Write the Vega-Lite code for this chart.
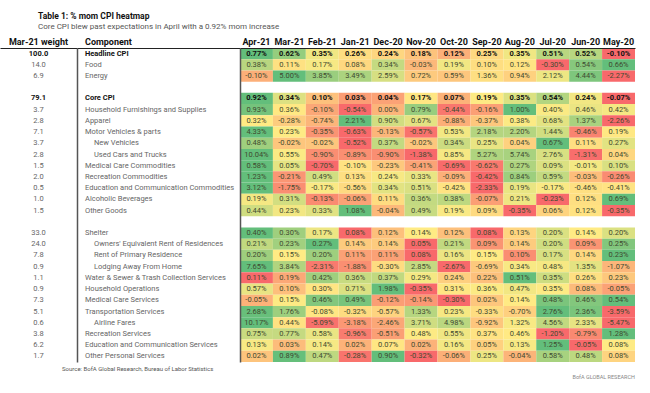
{
"$schema":"https://vega.github.io/schema/vega-lite/v6.json",
"padding":{"top":11,"left":0,"right":10,"bottom":0},
"config":{"font":"Roboto","view":{"stroke":null},"axis":{"grid":false},"locale":{"number":{"decimal":".","thousands":",","grouping":[3],"currency":["$",""],"minus":"-"}}},
"title":{"text":"Table 1: % mom CPI heatmap","subtitle":"Core CPI blew past expectations in April with a 0.92% mom increase","anchor":"start","dx":38,"fontSize":8.5,"fontWeight":"bold","color":"#111","subtitleFontSize":8,"subtitleColor":"#555","subtitlePadding":3,"offset":6},
"datasets":{
"comp":[
{"c":"Headline CPI","w":100.0,"level":0},{"c":"Food","w":14.0,"level":1},{"c":"Energy","w":6.9,"level":1},
{"c":"Core CPI","w":79.1,"level":0},{"c":"Household Furnishings and Supplies","w":3.7,"level":1},{"c":"Apparel","w":2.8,"level":1},{"c":"Motor Vehicles & parts","w":7.1,"level":1},{"c":"New Vehicles","w":3.7,"level":2},{"c":"Used Cars and Trucks","w":2.8,"level":2},{"c":"Medical Care Commodities","w":1.5,"level":1},{"c":"Recreation Commodities","w":2.0,"level":1},{"c":"Education and Communication Commodities","w":0.5,"level":1},{"c":"Alcoholic Beverages","w":1.0,"level":1},{"c":"Other Goods","w":1.5,"level":1},
{"c":"Shelter","w":33.0,"level":1},{"c":"Owners' Equivalent Rent of Residences","w":24.0,"level":2},{"c":"Rent of Primary Residence","w":7.8,"level":2},{"c":"Lodging Away From Home","w":0.9,"level":2},{"c":"Water & Sewer & Trash Collection Services","w":1.1,"level":1},{"c":"Household Operations","w":0.9,"level":1},{"c":"Medical Care Services","w":7.3,"level":1},{"c":"Transportation Services","w":5.1,"level":1},{"c":"Airline Fares","w":0.6,"level":2},{"c":"Recreation Services","w":3.8,"level":1},{"c":"Education and Communication Services","w":6.2,"level":1},{"c":"Other Personal Services","w":1.7,"level":1}
],
"cpi":[
{"c":"Headline CPI","m":"Apr-21","v":0.0077},{"c":"Headline CPI","m":"Mar-21","v":0.0062},{"c":"Headline CPI","m":"Feb-21","v":0.0035},{"c":"Headline CPI","m":"Jan-21","v":0.0026},{"c":"Headline CPI","m":"Dec-20","v":0.0024},{"c":"Headline CPI","m":"Nov-20","v":0.0018},{"c":"Headline CPI","m":"Oct-20","v":0.0012},{"c":"Headline CPI","m":"Sep-20","v":0.0025},{"c":"Headline CPI","m":"Aug-20","v":0.0035},{"c":"Headline CPI","m":"Jul-20","v":0.0051},{"c":"Headline CPI","m":"Jun-20","v":0.0052},{"c":"Headline CPI","m":"May-20","v":-0.001},
{"c":"Food","m":"Apr-21","v":0.0038},{"c":"Food","m":"Mar-21","v":0.0011},{"c":"Food","m":"Feb-21","v":0.0017},{"c":"Food","m":"Jan-21","v":0.0008},{"c":"Food","m":"Dec-20","v":0.0034},{"c":"Food","m":"Nov-20","v":-0.0003},{"c":"Food","m":"Oct-20","v":0.0019},{"c":"Food","m":"Sep-20","v":0.001},{"c":"Food","m":"Aug-20","v":0.0012},{"c":"Food","m":"Jul-20","v":-0.003},{"c":"Food","m":"Jun-20","v":0.0054},{"c":"Food","m":"May-20","v":0.0066},
{"c":"Energy","m":"Apr-21","v":-0.001},{"c":"Energy","m":"Mar-21","v":0.05},{"c":"Energy","m":"Feb-21","v":0.0385},{"c":"Energy","m":"Jan-21","v":0.0349},{"c":"Energy","m":"Dec-20","v":0.0259},{"c":"Energy","m":"Nov-20","v":0.0072},{"c":"Energy","m":"Oct-20","v":0.0059},{"c":"Energy","m":"Sep-20","v":0.0136},{"c":"Energy","m":"Aug-20","v":0.0094},{"c":"Energy","m":"Jul-20","v":0.0212},{"c":"Energy","m":"Jun-20","v":0.0444},{"c":"Energy","m":"May-20","v":-0.0227},
{"c":"Core CPI","m":"Apr-21","v":0.0092},{"c":"Core CPI","m":"Mar-21","v":0.0034},{"c":"Core CPI","m":"Feb-21","v":0.001},{"c":"Core CPI","m":"Jan-21","v":0.0003},{"c":"Core CPI","m":"Dec-20","v":0.0004},{"c":"Core CPI","m":"Nov-20","v":0.0017},{"c":"Core CPI","m":"Oct-20","v":0.0007},{"c":"Core CPI","m":"Sep-20","v":0.0019},{"c":"Core CPI","m":"Aug-20","v":0.0035},{"c":"Core CPI","m":"Jul-20","v":0.0054},{"c":"Core CPI","m":"Jun-20","v":0.0024},{"c":"Core CPI","m":"May-20","v":-0.0007},
{"c":"Household Furnishings and Supplies","m":"Apr-21","v":0.0093},{"c":"Household Furnishings and Supplies","m":"Mar-21","v":0.0036},{"c":"Household Furnishings and Supplies","m":"Feb-21","v":-0.001},{"c":"Household Furnishings and Supplies","m":"Jan-21","v":-0.0054},{"c":"Household Furnishings and Supplies","m":"Dec-20","v":0},{"c":"Household Furnishings and Supplies","m":"Nov-20","v":0.0079},{"c":"Household Furnishings and Supplies","m":"Oct-20","v":-0.0044},{"c":"Household Furnishings and Supplies","m":"Sep-20","v":-0.0016},{"c":"Household Furnishings and Supplies","m":"Aug-20","v":0.01},{"c":"Household Furnishings and Supplies","m":"Jul-20","v":0.004},{"c":"Household Furnishings and Supplies","m":"Jun-20","v":0.0046},{"c":"Household Furnishings and Supplies","m":"May-20","v":0.0042},
{"c":"Apparel","m":"Apr-21","v":0.0032},{"c":"Apparel","m":"Mar-21","v":-0.0028},{"c":"Apparel","m":"Feb-21","v":-0.0074},{"c":"Apparel","m":"Jan-21","v":0.0221},{"c":"Apparel","m":"Dec-20","v":0.009},{"c":"Apparel","m":"Nov-20","v":0.0067},{"c":"Apparel","m":"Oct-20","v":-0.0088},{"c":"Apparel","m":"Sep-20","v":-0.0037},{"c":"Apparel","m":"Aug-20","v":0.0038},{"c":"Apparel","m":"Jul-20","v":0.0068},{"c":"Apparel","m":"Jun-20","v":0.0137},{"c":"Apparel","m":"May-20","v":-0.0226},
{"c":"Motor Vehicles & parts","m":"Apr-21","v":0.0433},{"c":"Motor Vehicles & parts","m":"Mar-21","v":0.0023},{"c":"Motor Vehicles & parts","m":"Feb-21","v":-0.0035},{"c":"Motor Vehicles & parts","m":"Jan-21","v":-0.0063},{"c":"Motor Vehicles & parts","m":"Dec-20","v":-0.0013},{"c":"Motor Vehicles & parts","m":"Nov-20","v":-0.0057},{"c":"Motor Vehicles & parts","m":"Oct-20","v":0.0053},{"c":"Motor Vehicles & parts","m":"Sep-20","v":0.0218},{"c":"Motor Vehicles & parts","m":"Aug-20","v":0.022},{"c":"Motor Vehicles & parts","m":"Jul-20","v":0.0144},{"c":"Motor Vehicles & parts","m":"Jun-20","v":-0.0046},{"c":"Motor Vehicles & parts","m":"May-20","v":0.0019},
{"c":"New Vehicles","m":"Apr-21","v":0.0048},{"c":"New Vehicles","m":"Mar-21","v":-0.0002},{"c":"New Vehicles","m":"Feb-21","v":-0.0002},{"c":"New Vehicles","m":"Jan-21","v":-0.0052},{"c":"New Vehicles","m":"Dec-20","v":0.0037},{"c":"New Vehicles","m":"Nov-20","v":-0.0002},{"c":"New Vehicles","m":"Oct-20","v":0.0034},{"c":"New Vehicles","m":"Sep-20","v":0.0025},{"c":"New Vehicles","m":"Aug-20","v":0.0004},{"c":"New Vehicles","m":"Jul-20","v":0.0067},{"c":"New Vehicles","m":"Jun-20","v":0.0011},{"c":"New Vehicles","m":"May-20","v":0.0027},
{"c":"Used Cars and Trucks","m":"Apr-21","v":0.1004},{"c":"Used Cars and Trucks","m":"Mar-21","v":0.0055},{"c":"Used Cars and Trucks","m":"Feb-21","v":-0.009},{"c":"Used Cars and Trucks","m":"Jan-21","v":-0.0089},{"c":"Used Cars and Trucks","m":"Dec-20","v":-0.009},{"c":"Used Cars and Trucks","m":"Nov-20","v":-0.0138},{"c":"Used Cars and Trucks","m":"Oct-20","v":0.0085},{"c":"Used Cars and Trucks","m":"Sep-20","v":0.0527},{"c":"Used Cars and Trucks","m":"Aug-20","v":0.0574},{"c":"Used Cars and Trucks","m":"Jul-20","v":0.0276},{"c":"Used Cars and Trucks","m":"Jun-20","v":-0.0131},{"c":"Used Cars and Trucks","m":"May-20","v":0.0004},
{"c":"Medical Care Commodities","m":"Apr-21","v":0.0058},{"c":"Medical Care Commodities","m":"Mar-21","v":0.0005},{"c":"Medical Care Commodities","m":"Feb-21","v":-0.007},{"c":"Medical Care Commodities","m":"Jan-21","v":-0.001},{"c":"Medical Care Commodities","m":"Dec-20","v":-0.0023},{"c":"Medical Care Commodities","m":"Nov-20","v":-0.0041},{"c":"Medical Care Commodities","m":"Oct-20","v":-0.0069},{"c":"Medical Care Commodities","m":"Sep-20","v":-0.0062},{"c":"Medical Care Commodities","m":"Aug-20","v":0.0027},{"c":"Medical Care Commodities","m":"Jul-20","v":0.0009},{"c":"Medical Care Commodities","m":"Jun-20","v":-0.0001},{"c":"Medical Care Commodities","m":"May-20","v":0.001},
{"c":"Recreation Commodities","m":"Apr-21","v":0.0123},{"c":"Recreation Commodities","m":"Mar-21","v":-0.0021},{"c":"Recreation Commodities","m":"Feb-21","v":0.0049},{"c":"Recreation Commodities","m":"Jan-21","v":0.0013},{"c":"Recreation Commodities","m":"Dec-20","v":0.0024},{"c":"Recreation Commodities","m":"Nov-20","v":0.0033},{"c":"Recreation Commodities","m":"Oct-20","v":-0.0009},{"c":"Recreation Commodities","m":"Sep-20","v":-0.0042},{"c":"Recreation Commodities","m":"Aug-20","v":0.0084},{"c":"Recreation Commodities","m":"Jul-20","v":0.0059},{"c":"Recreation Commodities","m":"Jun-20","v":-0.0003},{"c":"Recreation Commodities","m":"May-20","v":-0.0026},
{"c":"Education and Communication Commodities","m":"Apr-21","v":0.0312},{"c":"Education and Communication Commodities","m":"Mar-21","v":-0.0175},{"c":"Education and Communication Commodities","m":"Feb-21","v":-0.0017},{"c":"Education and Communication Commodities","m":"Jan-21","v":-0.0056},{"c":"Education and Communication Commodities","m":"Dec-20","v":0.0034},{"c":"Education and Communication Commodities","m":"Nov-20","v":0.0051},{"c":"Education and Communication Commodities","m":"Oct-20","v":-0.0042},{"c":"Education and Communication Commodities","m":"Sep-20","v":-0.0233},{"c":"Education and Communication Commodities","m":"Aug-20","v":0.0019},{"c":"Education and Communication Commodities","m":"Jul-20","v":-0.0017},{"c":"Education and Communication Commodities","m":"Jun-20","v":-0.0046},{"c":"Education and Communication Commodities","m":"May-20","v":-0.0041},
{"c":"Alcoholic Beverages","m":"Apr-21","v":0.0019},{"c":"Alcoholic Beverages","m":"Mar-21","v":0.0031},{"c":"Alcoholic Beverages","m":"Feb-21","v":-0.0013},{"c":"Alcoholic Beverages","m":"Jan-21","v":-0.0006},{"c":"Alcoholic Beverages","m":"Dec-20","v":0.0011},{"c":"Alcoholic Beverages","m":"Nov-20","v":0.0036},{"c":"Alcoholic Beverages","m":"Oct-20","v":0.0038},{"c":"Alcoholic Beverages","m":"Sep-20","v":-0.0007},{"c":"Alcoholic Beverages","m":"Aug-20","v":0.0021},{"c":"Alcoholic Beverages","m":"Jul-20","v":-0.0023},{"c":"Alcoholic Beverages","m":"Jun-20","v":0.0012},{"c":"Alcoholic Beverages","m":"May-20","v":0.0069},
{"c":"Other Goods","m":"Apr-21","v":0.0044},{"c":"Other Goods","m":"Mar-21","v":0.0023},{"c":"Other Goods","m":"Feb-21","v":0.0033},{"c":"Other Goods","m":"Jan-21","v":0.0108},{"c":"Other Goods","m":"Dec-20","v":-0.0004},{"c":"Other Goods","m":"Nov-20","v":0.0049},{"c":"Other Goods","m":"Oct-20","v":0.0019},{"c":"Other Goods","m":"Sep-20","v":0.0009},{"c":"Other Goods","m":"Aug-20","v":-0.0035},{"c":"Other Goods","m":"Jul-20","v":0.0006},{"c":"Other Goods","m":"Jun-20","v":0.0012},{"c":"Other Goods","m":"May-20","v":-0.0035},
{"c":"Shelter","m":"Apr-21","v":0.004},{"c":"Shelter","m":"Mar-21","v":0.003},{"c":"Shelter","m":"Feb-21","v":0.0017},{"c":"Shelter","m":"Jan-21","v":0.0008},{"c":"Shelter","m":"Dec-20","v":0.0012},{"c":"Shelter","m":"Nov-20","v":0.0014},{"c":"Shelter","m":"Oct-20","v":0.0012},{"c":"Shelter","m":"Sep-20","v":0.0008},{"c":"Shelter","m":"Aug-20","v":0.0013},{"c":"Shelter","m":"Jul-20","v":0.002},{"c":"Shelter","m":"Jun-20","v":0.0014},{"c":"Shelter","m":"May-20","v":0.002},
{"c":"Owners' Equivalent Rent of Residences","m":"Apr-21","v":0.0021},{"c":"Owners' Equivalent Rent of Residences","m":"Mar-21","v":0.0023},{"c":"Owners' Equivalent Rent of Residences","m":"Feb-21","v":0.0027},{"c":"Owners' Equivalent Rent of Residences","m":"Jan-21","v":0.0014},{"c":"Owners' Equivalent Rent of Residences","m":"Dec-20","v":0.0014},{"c":"Owners' Equivalent Rent of Residences","m":"Nov-20","v":0.0005},{"c":"Owners' Equivalent Rent of Residences","m":"Oct-20","v":0.0021},{"c":"Owners' Equivalent Rent of Residences","m":"Sep-20","v":0.0009},{"c":"Owners' Equivalent Rent of Residences","m":"Aug-20","v":0.0014},{"c":"Owners' Equivalent Rent of Residences","m":"Jul-20","v":0.002},{"c":"Owners' Equivalent Rent of Residences","m":"Jun-20","v":0.0009},{"c":"Owners' Equivalent Rent of Residences","m":"May-20","v":0.0025},
{"c":"Rent of Primary Residence","m":"Apr-21","v":0.002},{"c":"Rent of Primary Residence","m":"Mar-21","v":0.0015},{"c":"Rent of Primary Residence","m":"Feb-21","v":0.002},{"c":"Rent of Primary Residence","m":"Jan-21","v":0.0011},{"c":"Rent of Primary Residence","m":"Dec-20","v":0.0011},{"c":"Rent of Primary Residence","m":"Nov-20","v":0.0008},{"c":"Rent of Primary Residence","m":"Oct-20","v":0.0016},{"c":"Rent of Primary Residence","m":"Sep-20","v":0.0015},{"c":"Rent of Primary Residence","m":"Aug-20","v":0.001},{"c":"Rent of Primary Residence","m":"Jul-20","v":0.0017},{"c":"Rent of Primary Residence","m":"Jun-20","v":0.0014},{"c":"Rent of Primary Residence","m":"May-20","v":0.0023},
{"c":"Lodging Away From Home","m":"Apr-21","v":0.0765},{"c":"Lodging Away From Home","m":"Mar-21","v":0.0384},{"c":"Lodging Away From Home","m":"Feb-21","v":-0.0231},{"c":"Lodging Away From Home","m":"Jan-21","v":-0.0188},{"c":"Lodging Away From Home","m":"Dec-20","v":-0.003},{"c":"Lodging Away From Home","m":"Nov-20","v":0.0285},{"c":"Lodging Away From Home","m":"Oct-20","v":-0.0267},{"c":"Lodging Away From Home","m":"Sep-20","v":-0.0069},{"c":"Lodging Away From Home","m":"Aug-20","v":0.0034},{"c":"Lodging Away From Home","m":"Jul-20","v":0.0048},{"c":"Lodging Away From Home","m":"Jun-20","v":0.0135},{"c":"Lodging Away From Home","m":"May-20","v":-0.0107},
{"c":"Water & Sewer & Trash Collection Services","m":"Apr-21","v":0.0011},{"c":"Water & Sewer & Trash Collection Services","m":"Mar-21","v":0.0019},{"c":"Water & Sewer & Trash Collection Services","m":"Feb-21","v":0.0042},{"c":"Water & Sewer & Trash Collection Services","m":"Jan-21","v":0.0036},{"c":"Water & Sewer & Trash Collection Services","m":"Dec-20","v":0.0037},{"c":"Water & Sewer & Trash Collection Services","m":"Nov-20","v":0.0029},{"c":"Water & Sewer & Trash Collection Services","m":"Oct-20","v":0.0024},{"c":"Water & Sewer & Trash Collection Services","m":"Sep-20","v":0.0022},{"c":"Water & Sewer & Trash Collection Services","m":"Aug-20","v":0.0051},{"c":"Water & Sewer & Trash Collection Services","m":"Jul-20","v":0.0035},{"c":"Water & Sewer & Trash Collection Services","m":"Jun-20","v":0.0026},{"c":"Water & Sewer & Trash Collection Services","m":"May-20","v":0.0023},
{"c":"Household Operations","m":"Apr-21","v":0.0057},{"c":"Household Operations","m":"Mar-21","v":0.001},{"c":"Household Operations","m":"Feb-21","v":0.003},{"c":"Household Operations","m":"Jan-21","v":0.0071},{"c":"Household Operations","m":"Dec-20","v":0.0198},{"c":"Household Operations","m":"Nov-20","v":-0.0035},{"c":"Household Operations","m":"Oct-20","v":0.0031},{"c":"Household Operations","m":"Sep-20","v":0.0036},{"c":"Household Operations","m":"Aug-20","v":0.0047},{"c":"Household Operations","m":"Jul-20","v":0.0035},{"c":"Household Operations","m":"Jun-20","v":0.0008},{"c":"Household Operations","m":"May-20","v":-0.0005},
{"c":"Medical Care Services","m":"Apr-21","v":-0.0005},{"c":"Medical Care Services","m":"Mar-21","v":0.0015},{"c":"Medical Care Services","m":"Feb-21","v":0.0046},{"c":"Medical Care Services","m":"Jan-21","v":0.0049},{"c":"Medical Care Services","m":"Dec-20","v":-0.0012},{"c":"Medical Care Services","m":"Nov-20","v":-0.0014},{"c":"Medical Care Services","m":"Oct-20","v":-0.003},{"c":"Medical Care Services","m":"Sep-20","v":0.0002},{"c":"Medical Care Services","m":"Aug-20","v":0.0014},{"c":"Medical Care Services","m":"Jul-20","v":0.0048},{"c":"Medical Care Services","m":"Jun-20","v":0.0046},{"c":"Medical Care Services","m":"May-20","v":0.0054},
{"c":"Transportation Services","m":"Apr-21","v":0.0268},{"c":"Transportation Services","m":"Mar-21","v":0.0176},{"c":"Transportation Services","m":"Feb-21","v":-0.0008},{"c":"Transportation Services","m":"Jan-21","v":-0.0032},{"c":"Transportation Services","m":"Dec-20","v":-0.0057},{"c":"Transportation Services","m":"Nov-20","v":0.0133},{"c":"Transportation Services","m":"Oct-20","v":0.0023},{"c":"Transportation Services","m":"Sep-20","v":-0.0033},{"c":"Transportation Services","m":"Aug-20","v":-0.007},{"c":"Transportation Services","m":"Jul-20","v":0.0276},{"c":"Transportation Services","m":"Jun-20","v":0.0236},{"c":"Transportation Services","m":"May-20","v":-0.0359},
{"c":"Airline Fares","m":"Apr-21","v":0.1017},{"c":"Airline Fares","m":"Mar-21","v":0.0044},{"c":"Airline Fares","m":"Feb-21","v":-0.0509},{"c":"Airline Fares","m":"Jan-21","v":-0.0318},{"c":"Airline Fares","m":"Dec-20","v":-0.0246},{"c":"Airline Fares","m":"Nov-20","v":0.0371},{"c":"Airline Fares","m":"Oct-20","v":0.0498},{"c":"Airline Fares","m":"Sep-20","v":-0.0092},{"c":"Airline Fares","m":"Aug-20","v":0.0132},{"c":"Airline Fares","m":"Jul-20","v":0.0456},{"c":"Airline Fares","m":"Jun-20","v":0.0233},{"c":"Airline Fares","m":"May-20","v":-0.0547},
{"c":"Recreation Services","m":"Apr-21","v":0.0075},{"c":"Recreation Services","m":"Mar-21","v":0.0077},{"c":"Recreation Services","m":"Feb-21","v":0.0058},{"c":"Recreation Services","m":"Jan-21","v":-0.0096},{"c":"Recreation Services","m":"Dec-20","v":-0.0051},{"c":"Recreation Services","m":"Nov-20","v":0.0048},{"c":"Recreation Services","m":"Oct-20","v":0.0055},{"c":"Recreation Services","m":"Sep-20","v":0.0037},{"c":"Recreation Services","m":"Aug-20","v":0.0046},{"c":"Recreation Services","m":"Jul-20","v":-0.012},{"c":"Recreation Services","m":"Jun-20","v":-0.0079},{"c":"Recreation Services","m":"May-20","v":0.0128},
{"c":"Education and Communication Services","m":"Apr-21","v":0.0013},{"c":"Education and Communication Services","m":"Mar-21","v":0.0003},{"c":"Education and Communication Services","m":"Feb-21","v":0.0014},{"c":"Education and Communication Services","m":"Jan-21","v":0.0002},{"c":"Education and Communication Services","m":"Dec-20","v":0.0007},{"c":"Education and Communication Services","m":"Nov-20","v":0.0002},{"c":"Education and Communication Services","m":"Oct-20","v":0.0016},{"c":"Education and Communication Services","m":"Sep-20","v":0.0005},{"c":"Education and Communication Services","m":"Aug-20","v":0.0013},{"c":"Education and Communication Services","m":"Jul-20","v":0.0125},{"c":"Education and Communication Services","m":"Jun-20","v":-0.0005},{"c":"Education and Communication Services","m":"May-20","v":0.0008},
{"c":"Other Personal Services","m":"Apr-21","v":0.0002},{"c":"Other Personal Services","m":"Mar-21","v":0.0089},{"c":"Other Personal Services","m":"Feb-21","v":0.0047},{"c":"Other Personal Services","m":"Jan-21","v":-0.0028},{"c":"Other Personal Services","m":"Dec-20","v":0.009},{"c":"Other Personal Services","m":"Nov-20","v":-0.0032},{"c":"Other Personal Services","m":"Oct-20","v":-0.0006},{"c":"Other Personal Services","m":"Sep-20","v":0.0025},{"c":"Other Personal Services","m":"Aug-20","v":-0.0004},{"c":"Other Personal Services","m":"Jul-20","v":0.0058},{"c":"Other Personal Services","m":"Jun-20","v":0.0048},{"c":"Other Personal Services","m":"May-20","v":0.0008}
]},
"hconcat":[
{"width":77,"height":314,"data":{"name":"comp"},
 "title":{"text":"Source: BofA Global Research, Bureau of Labor Statistics","orient":"bottom","anchor":"start","dx":62,"fontSize":6,"fontWeight":"normal","color":"#555","offset":4},
 "encoding":{
  "x":{"datum":"Mar-21 weight","type":"nominal","scale":{"type":"band","paddingInner":0,"paddingOuter":0},"axis":{"orient":"top","title":null,"ticks":false,"labelAngle":0,"labelFontWeight":"bold","labelFontSize":9,"labelColor":"#111","labelPadding":2,"domainColor":"#222","domainWidth":1}},
  "y":{"field":"c","type":"nominal","scale":{"type":"band","paddingInner":0,"paddingOuter":0,"domain":["Headline CPI","Food","Energy","_g1","Core CPI","Household Furnishings and Supplies","Apparel","Motor Vehicles & parts","New Vehicles","Used Cars and Trucks","Medical Care Commodities","Recreation Commodities","Education and Communication Commodities","Alcoholic Beverages","Other Goods","_g2","Shelter","Owners' Equivalent Rent of Residences","Rent of Primary Residence","Lodging Away From Home","Water & Sewer & Trash Collection Services","Household Operations","Medical Care Services","Transportation Services","Airline Fares","Recreation Services","Education and Communication Services","Other Personal Services"]},"axis":null},
  "text":{"field":"w","type":"quantitative","format":".1f"}},
 "layer":[
  {"transform":[{"filter":{"field":"level","equal":0}}],"mark":{"type":"text","fontSize":7.5,"fontWeight":"bold","color":"#111"}},
  {"transform":[{"filter":{"field":"level","gt":0}}],"mark":{"type":"text","fontSize":7.5,"color":"#666"}}
 ]},
{"width":163,"height":314,"data":{"name":"comp"},
 "encoding":{
  "x":{"datum":"Component","type":"nominal","bandPosition":0,"scale":{"type":"band","paddingInner":0,"paddingOuter":0},"axis":{"orient":"top","title":null,"ticks":false,"labelAlign":"left","labelOffset":-73.5,"labelAngle":0,"labelFontWeight":"bold","labelFontSize":9,"labelColor":"#111","labelPadding":2,"domainColor":"#222","domainWidth":1}},
  "y":{"field":"c","type":"nominal","scale":{"type":"band","paddingInner":0,"paddingOuter":0,"domain":["Headline CPI","Food","Energy","_g1","Core CPI","Household Furnishings and Supplies","Apparel","Motor Vehicles & parts","New Vehicles","Used Cars and Trucks","Medical Care Commodities","Recreation Commodities","Education and Communication Commodities","Alcoholic Beverages","Other Goods","_g2","Shelter","Owners' Equivalent Rent of Residences","Rent of Primary Residence","Lodging Away From Home","Water & Sewer & Trash Collection Services","Household Operations","Medical Care Services","Transportation Services","Airline Fares","Recreation Services","Education and Communication Services","Other Personal Services"]},"axis":{"labels":false,"ticks":false,"title":null,"domainColor":"#555","domainWidth":1.5}},
  "text":{"field":"c","type":"nominal"}},
 "layer":[
  {"transform":[{"filter":{"field":"level","equal":0}}],"mark":{"type":"text","align":"left","dx":8,"fontSize":7.5,"fontWeight":"bold","color":"#111"}},
  {"transform":[{"filter":{"field":"level","equal":1}}],"mark":{"type":"text","align":"left","dx":8,"fontSize":7.5,"color":"#666"}},
  {"transform":[{"filter":{"field":"level","equal":2}}],"mark":{"type":"text","align":"left","dx":17,"fontSize":7.5,"color":"#666"}}
 ]},
{"width":395,"height":314,"data":{"name":"cpi"},
 "title":{"text":"BofA GLOBAL RESEARCH","orient":"bottom","anchor":"end","fontSize":5.5,"fontWeight":"normal","color":"#888","offset":13},
 "encoding":{
  "x":{"field":"m","type":"ordinal","scale":{"type":"band","paddingInner":0,"paddingOuter":0,"domain":["Apr-21","Mar-21","Feb-21","Jan-21","Dec-20","Nov-20","Oct-20","Sep-20","Aug-20","Jul-20","Jun-20","May-20"]},"axis":{"orient":"top","title":null,"ticks":false,"labelAngle":0,"labelFontWeight":"bold","labelFontSize":9,"labelColor":"#111","labelPadding":2,"domainColor":"#222","domainWidth":1}},
  "y":{"field":"c","type":"nominal","scale":{"type":"band","paddingInner":0,"paddingOuter":0,"domain":["Headline CPI","Food","Energy","_g1","Core CPI","Household Furnishings and Supplies","Apparel","Motor Vehicles & parts","New Vehicles","Used Cars and Trucks","Medical Care Commodities","Recreation Commodities","Education and Communication Commodities","Alcoholic Beverages","Other Goods","_g2","Shelter","Owners' Equivalent Rent of Residences","Rent of Primary Residence","Lodging Away From Home","Water & Sewer & Trash Collection Services","Household Operations","Medical Care Services","Transportation Services","Airline Fares","Recreation Services","Education and Communication Services","Other Personal Services"]},"axis":{"labels":false,"ticks":false,"title":null,"domainColor":"#555","domainWidth":1.5}}},
 "layer":[
  {"transform":[{"filter":{"field":"c","equal":"Headline CPI"}}],"mark":"rect","encoding":{"color":{"field":"v","type":"quantitative","legend":null,"scale":{"domain":[-0.001,0.00305,0.0077],"range":["#F8696B","#FFEB84","#63BE7B"],"interpolate":"rgb"}}}},
  {"transform":[{"filter":{"field":"c","equal":"Food"}}],"mark":"rect","encoding":{"color":{"field":"v","type":"quantitative","legend":null,"scale":{"domain":[-0.003,0.00145,0.0066],"range":["#F8696B","#FFEB84","#63BE7B"],"interpolate":"rgb"}}}},
  {"transform":[{"filter":{"field":"c","equal":"Energy"}}],"mark":"rect","encoding":{"color":{"field":"v","type":"quantitative","legend":null,"scale":{"domain":[-0.0227,0.0174,0.05],"range":["#F8696B","#FFEB84","#63BE7B"],"interpolate":"rgb"}}}},
  {"transform":[{"filter":{"field":"c","equal":"Core CPI"}}],"mark":"rect","encoding":{"color":{"field":"v","type":"quantitative","legend":null,"scale":{"domain":[-0.0007,0.0018,0.0092],"range":["#F8696B","#FFEB84","#63BE7B"],"interpolate":"rgb"}}}},
  {"transform":[{"filter":{"field":"c","equal":"Household Furnishings and Supplies"}}],"mark":"rect","encoding":{"color":{"field":"v","type":"quantitative","legend":null,"scale":{"domain":[-0.0054,0.0038,0.01],"range":["#F8696B","#FFEB84","#63BE7B"],"interpolate":"rgb"}}}},
  {"transform":[{"filter":{"field":"c","equal":"Apparel"}}],"mark":"rect","encoding":{"color":{"field":"v","type":"quantitative","legend":null,"scale":{"domain":[-0.0226,0.0035,0.0221],"range":["#F8696B","#FFEB84","#63BE7B"],"interpolate":"rgb"}}}},
  {"transform":[{"filter":{"field":"c","equal":"Motor Vehicles & parts"}}],"mark":"rect","encoding":{"color":{"field":"v","type":"quantitative","legend":null,"scale":{"domain":[-0.0063,0.0021,0.0433],"range":["#F8696B","#FFEB84","#63BE7B"],"interpolate":"rgb"}}}},
  {"transform":[{"filter":{"field":"c","equal":"New Vehicles"}}],"mark":"rect","encoding":{"color":{"field":"v","type":"quantitative","legend":null,"scale":{"domain":[-0.0052,0.0018,0.0067],"range":["#F8696B","#FFEB84","#63BE7B"],"interpolate":"rgb"}}}},
  {"transform":[{"filter":{"field":"c","equal":"Used Cars and Trucks"}}],"mark":"rect","encoding":{"color":{"field":"v","type":"quantitative","legend":null,"scale":{"domain":[-0.0138,0.00295,0.1004],"range":["#F8696B","#FFEB84","#63BE7B"],"interpolate":"rgb"}}}},
  {"transform":[{"filter":{"field":"c","equal":"Medical Care Commodities"}}],"mark":"rect","encoding":{"color":{"field":"v","type":"quantitative","legend":null,"scale":{"domain":[-0.007,-0.00055,0.0058],"range":["#F8696B","#FFEB84","#63BE7B"],"interpolate":"rgb"}}}},
  {"transform":[{"filter":{"field":"c","equal":"Recreation Commodities"}}],"mark":"rect","encoding":{"color":{"field":"v","type":"quantitative","legend":null,"scale":{"domain":[-0.0042,0.00185,0.0123],"range":["#F8696B","#FFEB84","#63BE7B"],"interpolate":"rgb"}}}},
  {"transform":[{"filter":{"field":"c","equal":"Education and Communication Commodities"}}],"mark":"rect","encoding":{"color":{"field":"v","type":"quantitative","legend":null,"scale":{"domain":[-0.0233,-0.0029,0.0312],"range":["#F8696B","#FFEB84","#63BE7B"],"interpolate":"rgb"}}}},
  {"transform":[{"filter":{"field":"c","equal":"Alcoholic Beverages"}}],"mark":"rect","encoding":{"color":{"field":"v","type":"quantitative","legend":null,"scale":{"domain":[-0.0023,0.00155,0.0069],"range":["#F8696B","#FFEB84","#63BE7B"],"interpolate":"rgb"}}}},
  {"transform":[{"filter":{"field":"c","equal":"Other Goods"}}],"mark":"rect","encoding":{"color":{"field":"v","type":"quantitative","legend":null,"scale":{"domain":[-0.0035,0.00155,0.0108],"range":["#F8696B","#FFEB84","#63BE7B"],"interpolate":"rgb"}}}},
  {"transform":[{"filter":{"field":"c","equal":"Shelter"}}],"mark":"rect","encoding":{"color":{"field":"v","type":"quantitative","legend":null,"scale":{"domain":[0.0008,0.0014,0.004],"range":["#F8696B","#FFEB84","#63BE7B"],"interpolate":"rgb"}}}},
  {"transform":[{"filter":{"field":"c","equal":"Owners' Equivalent Rent of Residences"}}],"mark":"rect","encoding":{"color":{"field":"v","type":"quantitative","legend":null,"scale":{"domain":[0.0005,0.0017,0.0027],"range":["#F8696B","#FFEB84","#63BE7B"],"interpolate":"rgb"}}}},
  {"transform":[{"filter":{"field":"c","equal":"Rent of Primary Residence"}}],"mark":"rect","encoding":{"color":{"field":"v","type":"quantitative","legend":null,"scale":{"domain":[0.0008,0.0015,0.0023],"range":["#F8696B","#FFEB84","#63BE7B"],"interpolate":"rgb"}}}},
  {"transform":[{"filter":{"field":"c","equal":"Lodging Away From Home"}}],"mark":"rect","encoding":{"color":{"field":"v","type":"quantitative","legend":null,"scale":{"domain":[-0.0267,0.0002,0.0765],"range":["#F8696B","#FFEB84","#63BE7B"],"interpolate":"rgb"}}}},
  {"transform":[{"filter":{"field":"c","equal":"Water & Sewer & Trash Collection Services"}}],"mark":"rect","encoding":{"color":{"field":"v","type":"quantitative","legend":null,"scale":{"domain":[0.0011,0.00275,0.0051],"range":["#F8696B","#FFEB84","#63BE7B"],"interpolate":"rgb"}}}},
  {"transform":[{"filter":{"field":"c","equal":"Household Operations"}}],"mark":"rect","encoding":{"color":{"field":"v","type":"quantitative","legend":null,"scale":{"domain":[-0.0035,0.0033,0.0198],"range":["#F8696B","#FFEB84","#63BE7B"],"interpolate":"rgb"}}}},
  {"transform":[{"filter":{"field":"c","equal":"Medical Care Services"}}],"mark":"rect","encoding":{"color":{"field":"v","type":"quantitative","legend":null,"scale":{"domain":[-0.003,0.00145,0.0054],"range":["#F8696B","#FFEB84","#63BE7B"],"interpolate":"rgb"}}}},
  {"transform":[{"filter":{"field":"c","equal":"Transportation Services"}}],"mark":"rect","encoding":{"color":{"field":"v","type":"quantitative","legend":null,"scale":{"domain":[-0.0359,0.00075,0.0276],"range":["#F8696B","#FFEB84","#63BE7B"],"interpolate":"rgb"}}}},
  {"transform":[{"filter":{"field":"c","equal":"Airline Fares"}}],"mark":"rect","encoding":{"color":{"field":"v","type":"quantitative","legend":null,"scale":{"domain":[-0.0547,0.0088,0.1017],"range":["#F8696B","#FFEB84","#63BE7B"],"interpolate":"rgb"}}}},
  {"transform":[{"filter":{"field":"c","equal":"Recreation Services"}}],"mark":"rect","encoding":{"color":{"field":"v","type":"quantitative","legend":null,"scale":{"domain":[-0.012,0.0047,0.0128],"range":["#F8696B","#FFEB84","#63BE7B"],"interpolate":"rgb"}}}},
  {"transform":[{"filter":{"field":"c","equal":"Education and Communication Services"}}],"mark":"rect","encoding":{"color":{"field":"v","type":"quantitative","legend":null,"scale":{"domain":[-0.0005,0.00075,0.0125],"range":["#F8696B","#FFEB84","#63BE7B"],"interpolate":"rgb"}}}},
  {"transform":[{"filter":{"field":"c","equal":"Other Personal Services"}}],"mark":"rect","encoding":{"color":{"field":"v","type":"quantitative","legend":null,"scale":{"domain":[-0.0032,0.00165,0.009],"range":["#F8696B","#FFEB84","#63BE7B"],"interpolate":"rgb"}}}},
  {"transform":[{"filter":{"not":{"field":"c","oneOf":["Headline CPI","Core CPI"]}}}],"mark":{"type":"text","fontSize":7.5,"color":"#3f4a30"},"encoding":{"text":{"field":"v","type":"quantitative","format":".2%"}}},
  {"transform":[{"filter":{"field":"c","oneOf":["Headline CPI","Core CPI"]}}],"mark":{"type":"text","fontSize":7.5,"fontWeight":"bold","color":"#111"},"encoding":{"text":{"field":"v","type":"quantitative","format":".2%"}}}
 ],
 "resolve":{"scale":{"color":"independent"}}}
],
"spacing":0,
"bounds":"flush",
"resolve":{"scale":{"color":"independent"}}
}
